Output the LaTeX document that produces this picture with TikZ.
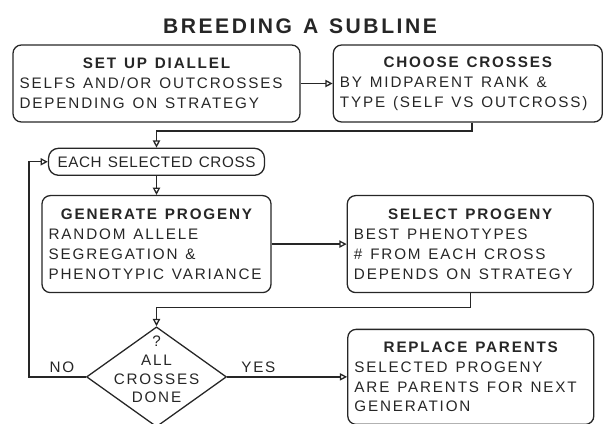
\documentclass[tikz,border=0pt]{standalone}
\usepackage{fontspec}
\setmainfont[LetterSpace=12, WordSpace=1.3]{Liberation Sans}
\usetikzlibrary{shapes.geometric, arrows.meta, positioning}
\setlength{\parindent}{0pt}
\newcommand{\boxhead}[1]{{\centering\bfseries #1\par}}

\begin{document}
\begin{tikzpicture}[
		every node/.style={font=\fontsize{13}{17}\selectfont, text=black!85},
		box/.style 2 args={rectangle, draw=black!85, line width=1.1pt, rounded corners=0.25cm, align=flush left, inner xsep=0.2cm, inner ysep=0pt, text width=#1, minimum height=#2},
		pill/.style={rectangle, draw=black!85, line width=1.1pt, rounded corners=0.3cm, align=center, inner xsep=0.1cm, minimum width=6.48cm, minimum height=0.81cm},
		decision/.style={diamond, draw=black!85, line width=1.1pt, inner sep=0pt, minimum width=4.2cm, minimum height=3cm},
		arrow/.style={draw=black!85, line width=1.1pt, -{Triangle[open, length=2.2mm, width=2.2mm]}}
		]
		\useasboundingbox (0,0) rectangle (18.12,-12.69);
		
		% Title
		\node[font=\fontsize{18}{20}\selectfont\bfseries] (title) at (9.0,-0.8) {BREEDING A SUBLINE};
		
		% Top row
		\node[box={8.21cm}{2.31cm}] (diallel) at (4.695,-2.505) {\boxhead{SET UP DIALLEL}SELFS AND/OR OUTCROSSES\\DEPENDING ON STRATEGY};
		\node[box={7.67cm}{2.31cm}, right=0.96cm of diallel] (choose) {\boxhead{CHOOSE CROSSES}BY MIDPARENT RANK \&\\TYPE (SELF VS OUTCROSS)};
		
		% Loop over crosses
		\node[pill, below=0.75cm of diallel] (each) {\addfontfeatures{LetterSpace=4}EACH SELECTED CROSS};
		\node[box={6.47cm}{2.91cm}, below=0.57cm of each] (generate) {\boxhead{GENERATE PROGENY}RANDOM ALLELE\\SEGREGATION \&\\PHENOTYPIC VARIANCE};
		\node[box={6.98cm}{2.91cm}, right=2.25cm of generate] (select) {\boxhead{SELECT PROGENY}BEST PHENOTYPES\\\# FROM EACH CROSS\\DEPENDS ON STRATEGY};
		
		% Decision
		\node[decision, below=0.99cm of generate, label={[yshift=0.22cm, align=center, font=\fontsize{13}{16}\selectfont]center:?\\ALL\\CROSSES\\DONE}] (done) {};
		\node[box={6.98cm}{2.85cm}, right=3.6cm of done] (replace) {\boxhead{REPLACE PARENTS}SELECTED PROGENY\\ARE PARENTS FOR NEXT\\GENERATION};
		
		% Connect them
		\draw[arrow] (diallel) -- (choose);
		\draw[arrow] ([xshift=0.13cm]choose.south) -- ++(0,-0.25) -| (each.north);
		\draw[arrow] (each) -- (generate);
		\draw[arrow] (generate) -- (select);
		\draw[arrow] (select.south) -- ++(0,-0.42) -| (done.north);
		\draw[arrow] (done.west) -- node[above, pos=0.42] {NO} ++(-1.71,0) |- (each.west);
		\draw[arrow] (done.east) -- node[above, pos=0.26] {YES} (replace.west);
	\end{tikzpicture}
\end{document}
